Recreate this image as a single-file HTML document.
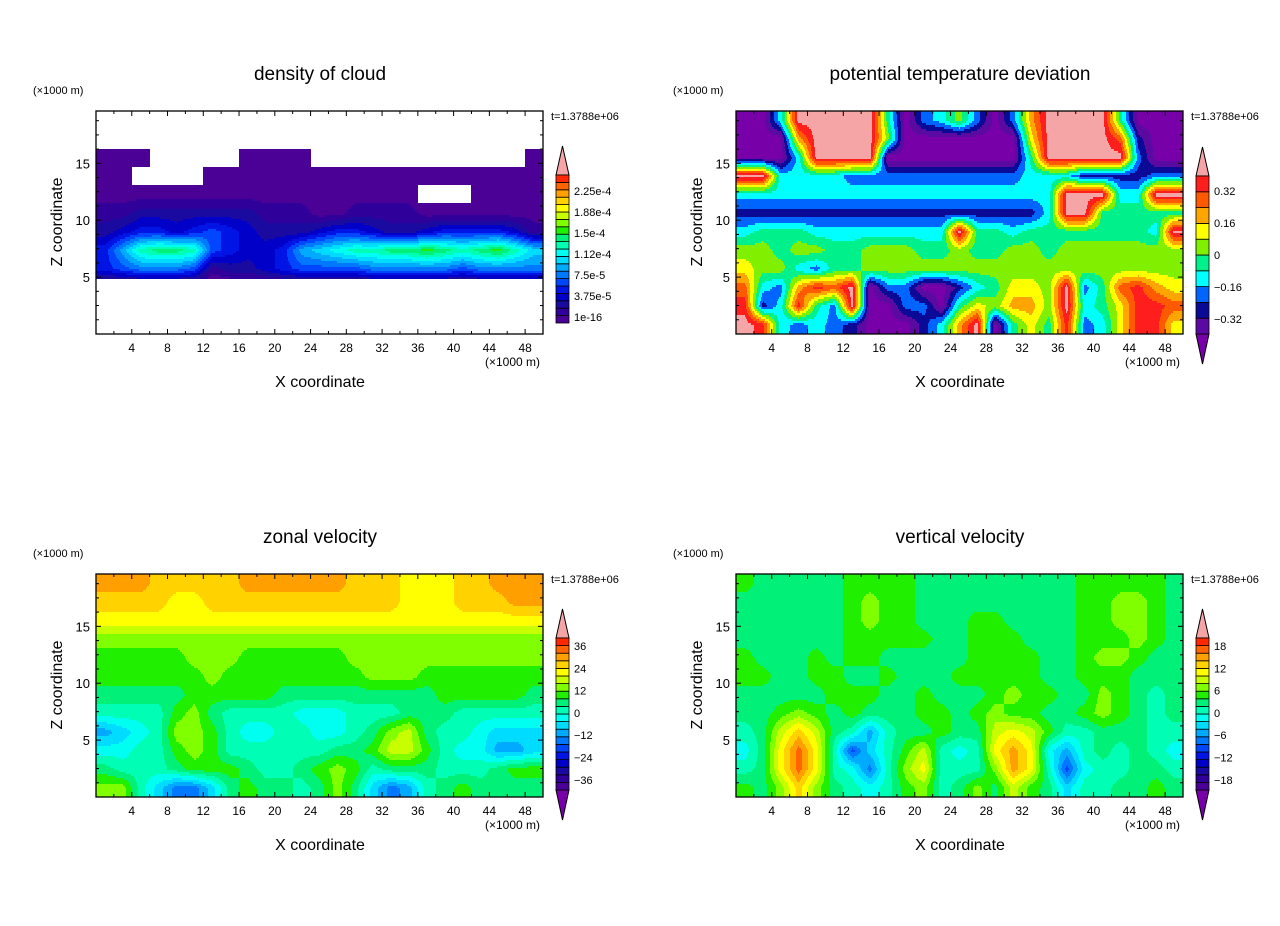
<!DOCTYPE html>
<html><head><meta charset="utf-8"><style>
body{margin:0;background:#fff;}
svg{display:block;font-family:"Liberation Sans",sans-serif;}
</style></head><body>
<svg id="fig" width="1280" height="926" viewBox="0 0 1280 926" xmlns="http://www.w3.org/2000/svg">
<rect width="1280" height="926" fill="#fff"/>
</svg>
<script>
// ---- data (level indices; rows top->bottom, 25 columns of 2 km) ----
const xTickLabels=[4,8,12,16,20,24,28,32,36,40,44,48];
const yTickLabels=[5,10,15];
const cloudLabels=["2.25e-4","1.88e-4","1.5e-4","1.12e-4","7.5e-5","3.75e-5","1e-16"];
const thetaLabels=["0.32","0.16","0","\u22120.16","\u22120.32"];
const uLabels=["36","24","12","0","\u221212","\u221224","\u221236"];
const wLabels=["18","12","6","0","\u22126","\u221212","\u221218"];
const cloudGrid=[
[0,0,0,0,0,0,0,0,0,0,0,0,0,0,0,0,0,0,0,0,0,0,0,0,0],
[0,0,0,0,0,0,0,0,0,0,0,0,0,0,0,0,0,0,0,0,0,0,0,0,0],
[1,1,1,0,0,0,0,0,1,1,1,1,0,0,0,0,0,0,0,0,0,0,0,0,1],
[1,1,0,0,0,0,1,1,1,1,1,1,1,1,1,1,1,1,1,1,1,1,1,1,1],
[1,1,1,1,1,1,1,1,1,1,1,1,1,1,1,1,1,1,0,0,0,1,1,1,1],
[2,2,3,3,3,3,3,3,3,2,2,2,1,1,2,2,2,2,1,1,1,1,1,1,1],
[3,4,5,5,4,5,6,5,4,3,3,3,4,5,5,4,3,3,4,5,5,5,5,4,2],
[5,8,11,12,12,11,6,5,4,4,5,8,9,10,11,11,12,12,13,12,11,12,13,11,9],
[5,6,7,7,7,6,2,3,3,4,5,6,6,6,6,7,7,7,7,7,6,7,7,7,7],
[0,0,0,0,0,0,0,0,0,0,0,0,0,0,0,0,0,0,0,0,0,0,0,0,0],
[0,0,0,0,0,0,0,0,0,0,0,0,0,0,0,0,0,0,0,0,0,0,0,0,0],
[0,0,0,0,0,0,0,0,0,0,0,0,0,0,0,0,0,0,0,0,0,0,0,0,0]];
const thetaGrid=[
[0,0,4,11,11,11,11,11,5,0,3,4,6,3,0,3,8,11,11,11,11,5,0,0,0],
[0,0,0,8,11,11,11,11,6,0,0,0,0,0,0,0,7,11,11,11,11,9,2,0,0],
[0,0,0,4,11,11,11,11,0,0,0,0,0,0,0,0,5,11,11,11,11,11,3,0,0],
[11,11,4,4,4,4,3,3,3,3,3,3,3,3,3,3,4,4,4,2,2,2,2,3,3],
[4,4,4,4,4,4,4,4,4,4,4,4,4,4,4,4,4,4,11,11,11,4,4,11,11],
[2,2,2,2,2,2,2,2,2,2,2,2,2,2,2,2,2,4,11,11,5,5,5,5,5],
[4,5,5,5,4,4,4,4,4,4,4,4,11,5,5,4,5,5,5,5,5,5,5,4,11],
[6,6,5,6,6,5,5,6,6,6,5,5,6,5,5,6,6,5,6,6,6,6,6,6,6],
[7,6,6,4,3,5,5,6,6,6,6,6,6,6,6,6,6,6,6,6,6,6,6,6,6],
[9,4,3,8,10,9,11,0,3,3,0,0,2,4,5,7,7,6,11,3,5,9,10,8,7],
[10,2,4,10,5,3,11,0,0,3,3,0,5,7,6,8,8,6,11,4,5,7,10,10,9],
[11,10,4,3,4,3,2,0,0,0,2,4,8,11,0,5,7,5,10,3,4,7,10,10,7]];
const uGrid=[
[18,18,18,17,17,17,17,17,18,18,18,18,18,18,17,17,17,16,16,16,17,17,18,18,18],
[17,17,17,17,16,16,17,17,17,17,17,17,17,17,17,17,17,16,16,16,17,17,17,18,18],
[16,16,16,16,16,16,16,16,16,16,16,16,16,16,16,16,16,16,16,16,16,16,16,16,16],
[14,14,14,14,14,14,14,14,14,14,14,14,14,14,14,14,14,14,14,14,14,14,14,14,14],
[13,13,13,13,13,14,14,14,13,13,13,13,13,13,14,14,14,14,14,14,14,14,14,14,14],
[13,13,13,13,13,13,14,13,13,13,13,13,13,13,13,14,14,14,13,13,13,13,13,13,13],
[12,12,12,12,12,13,13,13,13,13,12,12,12,12,12,12,12,12,12,13,13,13,13,13,12],
[11,11,11,11,13,14,12,11,11,11,11,10,10,10,11,11,11,12,12,12,11,11,11,11,11],
[8,9,10,11,14,14,13,11,10,10,11,11,10,10,11,12,14,15,12,11,11,10,9,9,9],
[10,10,11,11,13,14,13,11,11,11,11,11,11,12,12,13,15,15,13,11,10,10,8,8,9],
[12,11,11,11,12,13,13,13,12,11,11,12,13,14,13,11,12,12,12,11,11,11,12,13,13],
[14,14,11,9,7,7,9,12,13,12,12,11,12,14,12,9,7,8,11,12,13,12,12,12,12]];
const wGrid=[
[13,12,12,12,12,12,13,13,13,13,12,12,12,12,12,12,12,12,12,13,13,13,13,13,12],
[12,12,12,12,12,12,13,14,13,13,12,12,12,12,12,12,12,12,12,13,13,14,14,13,12],
[12,12,12,12,12,12,13,14,13,13,12,12,12,13,13,12,12,12,12,13,13,14,14,13,12],
[12,12,12,12,12,12,13,13,13,13,13,12,12,13,13,13,12,12,12,13,13,13,14,13,12],
[13,12,12,12,13,12,13,13,12,12,12,12,12,13,13,13,13,12,12,13,14,14,13,12,12],
[13,13,12,12,13,13,12,12,13,12,12,12,13,13,13,13,13,12,12,13,13,13,12,12,12],
[12,12,12,12,12,13,13,13,12,12,13,12,12,12,13,14,13,13,12,12,14,13,12,11,12],
[12,12,13,14,13,12,13,12,12,12,13,13,12,13,14,13,13,12,12,13,14,13,12,11,12],
[11,12,15,17,15,12,11,8,11,12,12,13,12,12,15,16,15,13,11,11,12,12,12,11,11],
[10,12,16,19,16,11,6,9,11,13,15,11,10,11,16,18,16,10,8,11,12,11,12,11,10],
[11,12,16,19,16,11,10,7,11,14,16,11,11,11,14,18,16,11,6,10,11,11,12,12,11],
[13,12,14,17,14,12,11,10,11,13,14,11,12,14,12,15,13,12,9,11,11,12,12,13,12]];

// ---- styling ----
const pal20=["#4b0096","#30009a","#1a0aa0","#0000c8","#0014e6","#0046ff","#0078ff","#00aaff","#00dcff","#00fff0","#00ffb4","#00f078","#20f000","#80ff00","#c8ff00","#ffff00","#ffd200","#ffa000","#ff6400","#ff2800"];
const pal10=["#5a0aa0","#0a0a96","#0064ff","#00ffff","#00f08c","#80f000","#ffff00","#ffa500","#ff5a00","#ff1e1e"];
const PINK="#f5a5a5", BELOW="#7800a8";
const NS="http://www.w3.org/2000/svg";
const svg=document.getElementById("fig");
function mk(tag,attrs,parent){const e=document.createElementNS(NS,tag);for(const k in attrs)e.setAttribute(k,attrs[k]);(parent||svg).appendChild(e);return e;}
function txt(s,x,y,size,anchor,parent){const t=mk("text",{x:x,y:y,"font-size":size,"text-anchor":anchor||"start",fill:"#000"},parent);t.textContent=s;return t;}

const W=447,H=223,XMAX=50,ZMAX=19.6;
function sx(ox,v){return ox+v/XMAX*W;}
function sz(oy,v){return oy+H-v/ZMAX*H;}

function drawField(g,grid,ox,oy,colorFn,whiteZero){
  const nr=grid.length,nc=grid[0].length,step=2;
  for(let py=0;py<H;py+=step){
    let runStart=0,runCol=null;
    const flush=(end)=>{if(runCol){const r=mk("rect",{x:ox+runStart,y:oy+py,width:end-runStart,height:Math.min(step,H-py),fill:runCol},g);}};
    for(let px=0;px<=W;px+=1){
      let col=null;
      if(px<W){
        const fx=(px+0.5)/W*nc-0.5, fz=(py+1)/H*nr-0.5;
        const cx=Math.max(0,Math.min(nc-1.0001,fx)), cz=Math.max(0,Math.min(nr-1.0001,fz));
        const x0=Math.floor(cx),z0=Math.floor(cz),tx=cx-x0,tz=cz-z0;
        const v=(grid[z0][x0]*(1-tx)+grid[z0][x0+1]*tx)*(1-tz)+(grid[z0+1][x0]*(1-tx)+grid[z0+1][x0+1]*tx)*tz;
        if(whiteZero){
          const ix=Math.min(nc-1,Math.floor((px+0.5)/W*nc)),iz=Math.min(nr-1,Math.floor((py+1)/H*nr));
          col=grid[iz][ix]===0?null:colorFn(Math.max(1,Math.round(v)));
        } else col=colorFn(Math.round(v));
      }
      if(col!==runCol||px===W){flush(px);runStart=px;runCol=col;}
    }
  }
}

function panel(name,ox,oy,title,grid,colorFn,whiteZero,cb){
  const g=mk("g",{});
  
  const fg=mk("g",{},g);
  drawField(fg,grid,ox,oy,colorFn,whiteZero);
  const fr=mk("rect",{x:ox,y:oy,width:W,height:H,fill:"none",stroke:"#000","stroke-width":1.3},g);
  
  for(let v=2;v<XMAX;v+=2){const X=sx(ox,v),L=(v%4===0)?5:3;
    mk("line",{x1:X,y1:oy+H,x2:X,y2:oy+H-L,stroke:"#000","stroke-width":1},g);
    mk("line",{x1:X,y1:oy,x2:X,y2:oy+L,stroke:"#000","stroke-width":1},g);}
  for(let v=1.25;v<ZMAX;v+=1.25){const Y=sz(oy,v),L=(Math.abs(v%5)<0.01)?5:3;
    mk("line",{x1:ox,y1:Y,x2:ox+L,y2:Y,stroke:"#000","stroke-width":1},g);
    mk("line",{x1:ox+W,y1:Y,x2:ox+W-L,y2:Y,stroke:"#000","stroke-width":1},g);}
  xTickLabels.forEach(v=>{const t=txt(String(v),sx(ox,v),oy+H+18,12,"middle",g);});
  yTickLabels.forEach(v=>{const t=txt(String(v),ox-6,sz(oy,v)+5,13,"end",g);});
  let t=txt(title,ox+224,oy-31,19,"middle",g);
  t=txt("(\u00d71000 m)",ox-63,oy-17,11,"start",g);
  t=txt("(\u00d71000 m)",ox+389,oy+H+32,12,"start",g);
  t=txt("X coordinate",ox+224,oy+H+53,16,"middle",g);
  t=txt("Z coordinate",0,0,16,"middle",g);t.setAttribute("transform","translate("+(ox-34)+","+(oy+111)+") rotate(-90)");
  
  t=txt("t=1.3788e+06",ox+455,oy+9,11,"start",g);
  const cg=mk("g",{},g);
  const bx=ox+460,bw=13,n=cb.colors.length,bh=(cb.bot-cb.top)/n;
  mk("polygon",{points:bx+","+cb.top+" "+(bx+bw/2)+","+(cb.top-29)+" "+(bx+bw)+","+cb.top,fill:PINK,stroke:"#000","stroke-width":1},cg);
  if(cb.lower)mk("polygon",{points:bx+","+cb.bot+" "+(bx+bw/2)+","+(cb.bot+30)+" "+(bx+bw)+","+cb.bot,fill:BELOW,stroke:"#000","stroke-width":1},cg);
  cb.colors.forEach((c,i)=>{const r=mk("rect",{x:bx,y:cb.bot-(i+1)*bh,width:bw,height:bh,fill:c,stroke:"#000","stroke-width":0.8},cg);
    });
  cb.labels.forEach((s,i)=>{const tl=txt(s,bx+18,cb.l0+i*cb.ls+4,11,"start",cg);});
}
const c20=l=>l<=0?BELOW:(l>=21?PINK:pal20[l-1]);
const c10=l=>l<=0?BELOW:(l>=11?PINK:pal10[l-1]);
panel("density-of-cloud",96,111,"density of cloud",cloudGrid,l=>pal20[Math.min(20,l)-1],true,{colors:pal20,top:175,bot:323,lower:false,labels:cloudLabels,l0:191,ls:21});
panel("potential-temperature",736,111,"potential temperature deviation",thetaGrid,c10,false,{colors:pal10,top:176,bot:334,lower:true,labels:thetaLabels,l0:191,ls:32});
panel("zonal-velocity",96,574,"zonal velocity",uGrid,c20,false,{colors:pal20,top:638,bot:790,lower:true,labels:uLabels,l0:646,ls:22.3});
panel("vertical-velocity",736,574,"vertical velocity",wGrid,c20,false,{colors:pal20,top:638,bot:790,lower:true,labels:wLabels,l0:646,ls:22.3});
</script>
</body></html>
